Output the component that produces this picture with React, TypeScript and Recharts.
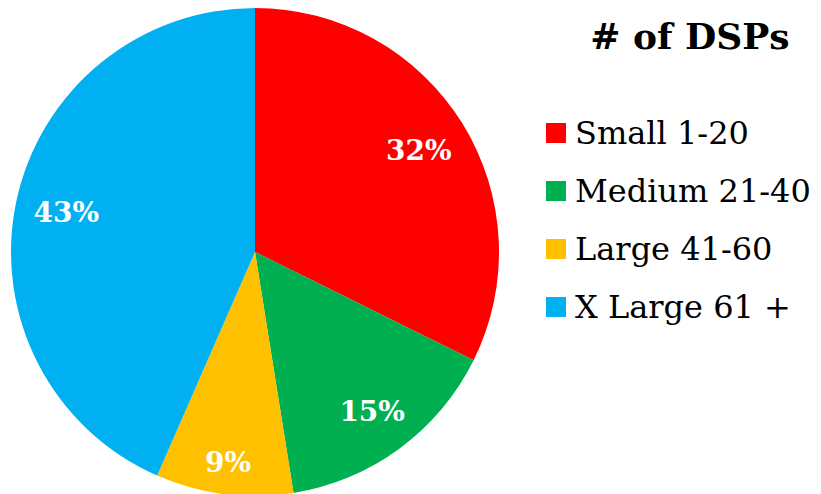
import { PieChart, Pie, Cell, Legend } from "recharts";

// # of DSPs by size bucket (percent of total)
const categories = ["Small 1-20", "Medium 21-40", "Large 41-60", "X Large 61 +"];
const shares = [32, 15, 9, 43];
const colors = ["#FF0000", "#00B050", "#FFC000", "#00B0F0"];
const title = "# of DSPs";

// how far out each percent label sits, as a fraction of the radius
const labelRadius = [0.79, 0.81, 0.87, 0.79];

const data = categories.map((name, i) => ({ name, value: shares[i] }));

const FONT = '"DejaVu Serif", Georgia, serif';
const RAD = Math.PI / 180;

const renderLabel = (props: any) => {
  const { cx, cy, midAngle, outerRadius, value, index } = props;
  const r = outerRadius * labelRadius[index];
  const x = cx + r * Math.cos(-midAngle * RAD);
  const y = cy + r * Math.sin(-midAngle * RAD);
  return (
    <text
      x={x}
      y={y}
      fill="#fff"
      textAnchor="middle"
      dominantBaseline="central"
      fontFamily={FONT}
      fontWeight="bold"
      fontSize={28}
    >
      {`${value}%`}
    </text>
  );
};

// legend keeps the data order (recharts sorts its payload by name)
const LegendBox = () => (
  <div style={{ fontFamily: FONT, color: "#000" }}>
    <div
      style={{
        width: 288,
        height: 60,
        lineHeight: "60px",
        textAlign: "center",
        fontWeight: "bold",
        fontSize: 36,
        whiteSpace: "nowrap",
      }}
    >
      {title}
    </div>
    <div style={{ marginTop: 38 }}>
      {data.map((d, i) => (
        <div
          key={d.name}
          style={{ display: "flex", alignItems: "center", height: 58, whiteSpace: "nowrap" }}
        >
          <span
            style={{ display: "inline-block", width: 20, height: 20, background: colors[i], marginRight: 9 }}
          />
          <span style={{ fontSize: 32 }}>{d.name}</span>
        </div>
      ))}
    </div>
  </div>
);

export default function App() {
  return (
    <div style={{ position: "absolute", left: 0, top: 0, background: "#fff" }}>
      <PieChart width={821} height={494} margin={{ top: 0, right: 0, bottom: 0, left: 0 }}>
        <Pie
          data={data}
          dataKey="value"
          nameKey="name"
          cx={255}
          cy={252}
          outerRadius={244}
          startAngle={90}
          endAngle={-270}
          stroke="none"
          label={renderLabel}
          labelLine={false}
          isAnimationActive={false}
        >
          {data.map((d, i) => (
            <Cell key={d.name} fill={colors[i]} />
          ))}
        </Pie>
        <Legend
          content={LegendBox}
          wrapperStyle={{ position: "absolute", left: 546, top: 6, width: 275 }}
        />
      </PieChart>
    </div>
  );
}
